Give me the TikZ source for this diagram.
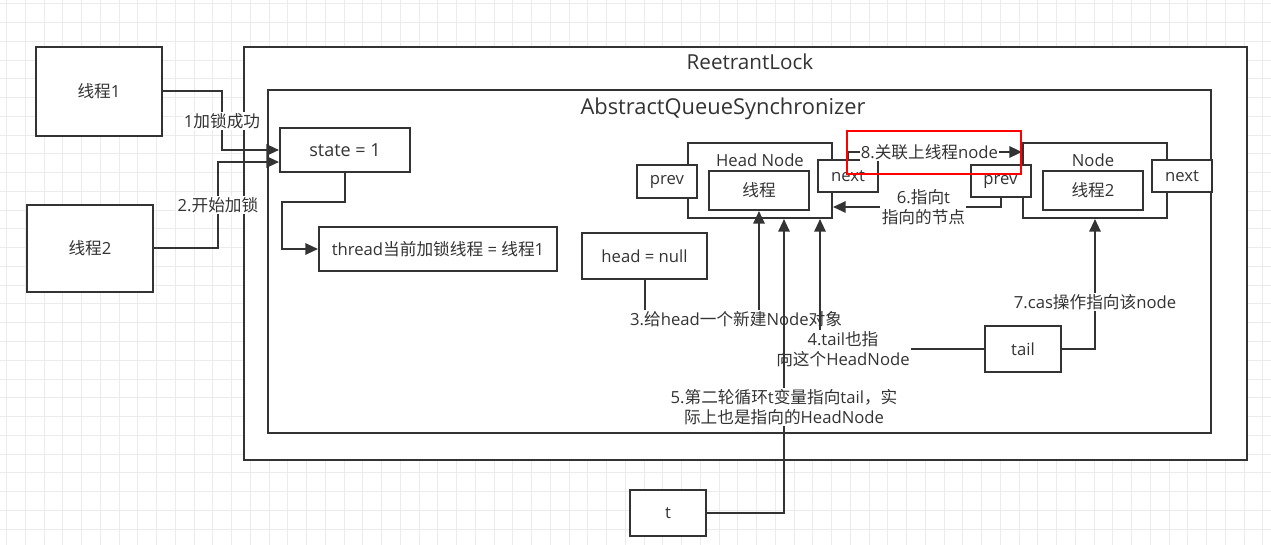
\documentclass[tikz,border=0pt]{standalone}
\usepackage{fontspec}
\setmainfont{Open Sans}
\newfontfamily\cjk{Noto Sans CJK SC}
\newcommand{\zh}[1]{{\cjk #1}}
\usetikzlibrary{
    arrows.meta,
    calc,
    positioning
}
\definecolor{ink}{HTML}{333333}
\definecolor{gridgray}{HTML}{EBEBEB}

\begin{document}
\begin{tikzpicture}[x=0.75pt, y=-0.75pt,
    box/.style={draw=ink, line width=1.5pt, fill=white, text=ink, inner sep=0pt,
        font=\fontsize{12.5}{15}\selectfont},
    sz/.style 2 args={minimum width=#1*0.75pt, minimum height=#2*0.75pt},
    link/.style={draw=ink, line width=1.5pt, -{Triangle[length=9.5pt,width=8.5pt]}},
    lbl/.style={fill=white, text=ink, inner sep=1pt, align=center,
        font=\fontsize{12.5}{15}\selectfont},
    caption/.style={text=ink, inner sep=0pt, font=\fontsize{12.5}{15}\selectfont},
    title/.style={text=ink, inner sep=0pt, font=\fontsize{15.5}{18}\selectfont},
    gridline/.style={draw=gridgray, line width=0.75pt}]

\useasboundingbox[fill=white] (0,0) rectangle (1271,545);

% Background grid
\foreach \gx in {0,...,67}
    \draw[gridline] ({6.7+18.75*\gx},0) -- ++(0,545);
\foreach \gy in {0,...,29}
    \draw[gridline] (0,{4+18.75*\gy}) -- ++(1271,0);

% Threads outside the lock
\node[box, sz={126}{89}] (thread1) at (99,91.5) {\zh{线程}1};
\node[box, sz={126}{87}] (thread2) at (90,248.5) {\zh{线程}2};

% ReetrantLock and AQS
\node[box, sz={1003}{413}] (lock) at (745.5,253.5) {};
\node[title] (locktitle) at (750,62) {ReetrantLock};
\node[box, sz={943}{343}] (aqs) at (739.5,261.5) {};
\node[title, font=\fontsize{16.4}{19}\selectfont] (aqstitle) at (723,109) {AbstractQueueSynchronizer};

% State and owner
\node[box, sz={130}{44}, font=\fontsize{13.5}{15}\selectfont] (state) at (345,150) {state = 1};
\node[box, sz={238}{44}] (owner) at (438,249) {thread\zh{当前加锁线程} = \zh{线程}1};
\node[box, sz={125}{46}] (nullhead) at (644.5,256) {head = null};

% Head node
\node[box, sz={144}{75}] (head) at (760,180.5) {};
\node[caption] (headtitle) at (760,160) {Head Node};
\node[box, sz={60}{33}] (hprev) at (667,181.5) {prev};
\node[box, sz={100}{39}] (hthread) at (759,190.5) {\zh{线程}};
\node[box, sz={60}{32}] (hnext) at (848,176) {next};

% Second node
\node[box, sz={144}{75}] (node) at (1095,180.5) {};
\node[caption] (nodetitle) at (1093,160) {Node};
\node[box, sz={60}{32}] (nprev) at (1000.5,181.5) {prev};
\node[box, sz={100}{39}] (nthread) at (1093,190.5) {\zh{线程}2};
\node[box, sz={60}{32}] (nnext) at (1182,176) {next};

% Pointers
\node[box, sz={76}{46}] (tail) at (1023,349) {tail};
\node[box, sz={76}{46}] (tvar) at (668,513) {t};

% Locking
\draw[link] (thread1.east) -- ++(59,0) |- (state.west)
    node[lbl, pos=0.25] {1\zh{加锁成功}};
\draw[link] (thread2.east) -- ++(64,0) |- ($(state.west)+(0,12)$)
    node[lbl, pos=0.25] {2.\zh{开始加锁}};
\draw[link] (state.south) -- ++(0,29) -| ($(owner.west)+(-36,0)$) -- (owner.west);

% Queue
\draw[link] (nullhead.south) -- ++(0,39) -| (hthread.south)
    node[lbl, pos=0.4] {3.\zh{给}head\zh{一个新建}Node\zh{对象}};
\draw[link] (tail.west) -| ($(head.south)+(60,0)$)
    node[lbl, pos=0.43] {4.tail\zh{也指}\\\zh{向这个}HeadNode};
\draw[link] (tvar.east) -| ($(head.south)+(24,0)$)
    node[lbl, pos=0.68] {5.\zh{第二轮循环}t\zh{变量指向}tail\zh{，实}\\\zh{际上也是指向的}HeadNode};
\draw[link] (nprev.south) |- ($(head.east)+(0,26.5)$)
    node[lbl, pos=0.73] {6.\zh{指向}t\\\zh{指向的节点}};
\draw[link] (tail.east) -| (node.south)
    node[lbl, pos=0.68] {7.cas\zh{操作指向该}node};
\draw[link] (hnext.north) |- ($(node.west)+(0,-28.5)$)
    node[lbl, pos=0.734] {8.\zh{关联上线程}node};

% Highlight
\draw[red, line width=1.5pt] (847,131) rectangle (1021,174);

\end{tikzpicture}
\end{document}
